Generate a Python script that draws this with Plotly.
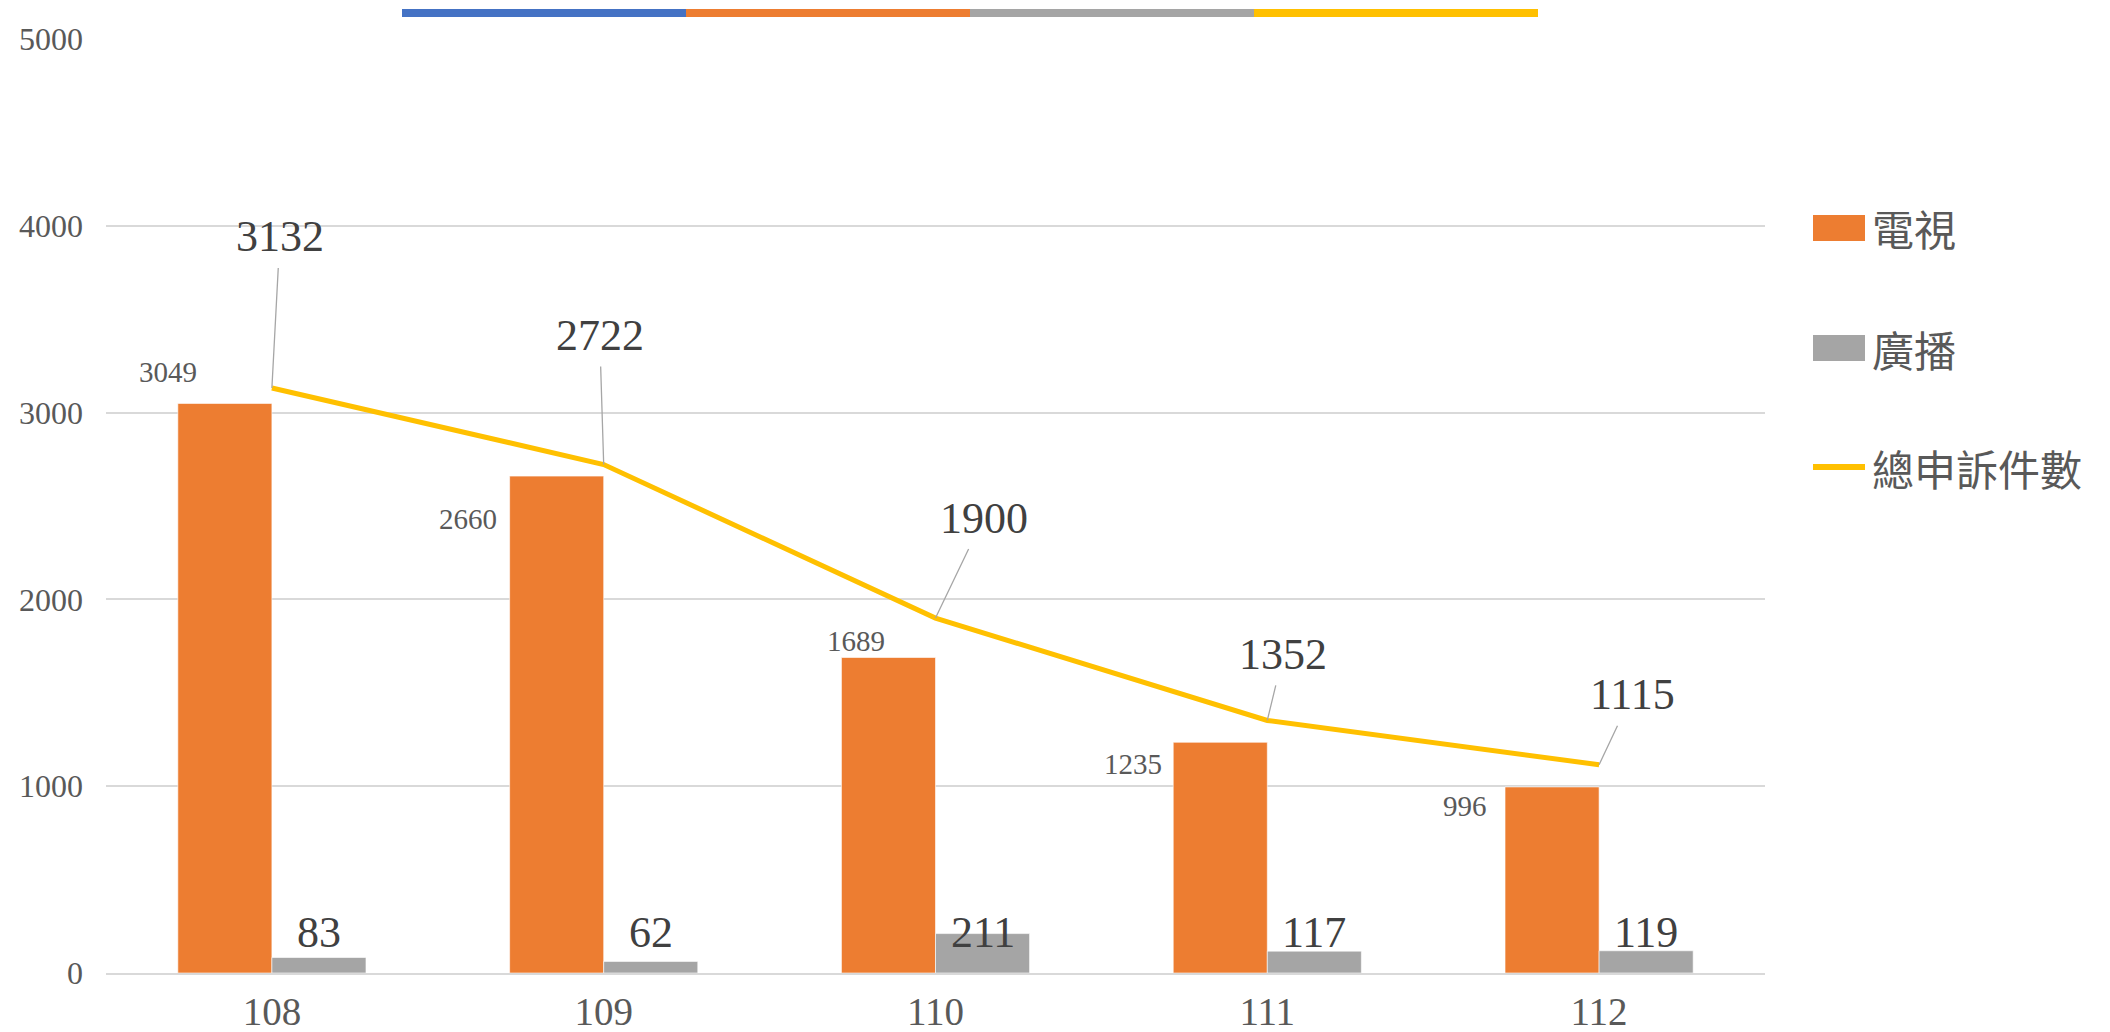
import plotly.graph_objects as go

# ---------------- data ----------------
years = ["108", "109", "110", "111", "112"]
tv = [3049, 2660, 1689, 1235, 996]
radio = [83, 62, 211, 117, 119]
total = [3132, 2722, 1900, 1352, 1115]
series_names = ["電視", "廣播", "總申訴件數"]
y_ticks = [0, 1000, 2000, 3000, 4000, 5000]

# ---------------- style ----------------
C_ORANGE = "#ED7D31"
C_GRAY = "#A5A5A5"
C_YELLOW = "#FFC000"
C_BLUE = "#4472C4"
top_strip_colors = [C_BLUE, C_ORANGE, C_GRAY, C_YELLOW]
TXT_DARK = "#404040"
TXT_MID = "#595959"
GRID = "#D9D9D9"
NUM_FONT = "Liberation Serif"
CJK_FONT = "Noto Sans CJK TC"

OFF = 8  # browser body margin
W, H = 2110 - OFF, 1032 - OFF
# plot area in page pixels
PL, PR, PT, PB = 106, 1765, 39, 973
L, T = PL - OFF, PT - OFF
R, B = W - (PR - OFF), H - (PB - OFF)
PW, PH = PR - PL, PB - PT

def px_x(p):
    return (p - PL) / PW

def px_y(p):
    return (PB - p) / PH

# label offsets (pixels) for TV labels relative to category center / bar top
tv_dx = [-104, -136, -80, -134, -134]
tv_dy = [31, -43, 16, -22, -19]
# total-line labels offsets (ax, ay)
tot_ax = [8, -4, 48, 16, 33]
tot_ay = [-151, -129, -100, -66, -70]

fig = go.Figure()
fig.add_trace(go.Bar(x=years, y=tv, name=series_names[0], marker_color=C_ORANGE,
                     marker_line_color="white", marker_line_width=0.6))
fig.add_trace(go.Bar(x=years, y=radio, name=series_names[1], marker_color=C_GRAY,
                     marker_line_color="white", marker_line_width=0.6))
fig.add_trace(go.Scatter(x=years, y=total, name=series_names[2], mode="lines",
                         line=dict(color=C_YELLOW, width=5)))

ann = []
for i, yv in enumerate(years):
    ann.append(dict(x=i, y=tv[i], xref="x", yref="y", text=str(tv[i]), showarrow=False,
                    xshift=tv_dx[i], yshift=tv_dy[i], xanchor="center", yanchor="middle",
                    font=dict(family=NUM_FONT, size=29, color=TXT_MID)))
    ann.append(dict(x=i, y=0, xref="x", yref="y", text=str(radio[i]), showarrow=False,
                    xshift=47, yshift=41, xanchor="center", yanchor="middle",
                    font=dict(family=NUM_FONT, size=44, color=TXT_DARK)))
    ann.append(dict(x=i, y=total[i], xref="x", yref="y", text=str(total[i]), showarrow=True,
                    arrowhead=0, arrowwidth=1.3, arrowcolor="#A6A6A6", ax=tot_ax[i], ay=tot_ay[i],
                    standoff=0, borderpad=6,
                    font=dict(family=NUM_FONT, size=44, color=TXT_DARK)))

# manual legend
shapes = []
leg_y = [228, 348, 467]
for k in range(2):
    col = [C_ORANGE, C_GRAY][k]
    shapes.append(dict(type="rect", xref="paper", yref="paper",
                       x0=px_x(1813), x1=px_x(1865), y0=px_y(leg_y[k] - 13), y1=px_y(leg_y[k] + 13),
                       fillcolor=col, line_width=0, layer="above"))
shapes.append(dict(type="line", xref="paper", yref="paper",
                   x0=px_x(1813), x1=px_x(1865), y0=px_y(leg_y[2]), y1=px_y(leg_y[2]),
                   line=dict(color=C_YELLOW, width=6)))
for k in range(3):
    ann.append(dict(x=px_x(1870), y=px_y(leg_y[k]), xref="paper", yref="paper",
                    text=series_names[k], showarrow=False, xanchor="left", yanchor="middle",
                    font=dict(family=CJK_FONT, size=42, color=TXT_MID)))

# top colored strip
strip_x0, strip_w = 402, 284
for k, col in enumerate(top_strip_colors):
    shapes.append(dict(type="rect", xref="paper", yref="paper",
                       x0=px_x(strip_x0 + k * strip_w), x1=px_x(strip_x0 + (k + 1) * strip_w),
                       y0=px_y(17), y1=px_y(9), fillcolor=col, line_width=0))

fig.update_layout(
    width=W, height=H,
    margin=dict(l=L, r=R, t=T, b=B),
    paper_bgcolor="white", plot_bgcolor="white",
    barmode="group", bargap=0.433, bargroupgap=0,
    showlegend=False,
    annotations=ann, shapes=shapes,
    xaxis=dict(type="category", range=[-0.5, len(years) - 0.5], autorange=False,
               automargin=False, tickangle=0,
               showgrid=False, showline=True, linecolor=GRID, linewidth=1.5,
               ticks="", ticklabelstandoff=3,
               tickfont=dict(family=NUM_FONT, size=39, color=TXT_MID)),
    yaxis=dict(range=[0, 5000], tickvals=y_ticks, showgrid=True, gridcolor=GRID, gridwidth=1.5,
               automargin=False,
               zeroline=False, showline=False, ticks="", ticklabelstandoff=22,
               tickfont=dict(family=NUM_FONT, size=32, color=TXT_MID)),
)

fig.write_html("out.html")
